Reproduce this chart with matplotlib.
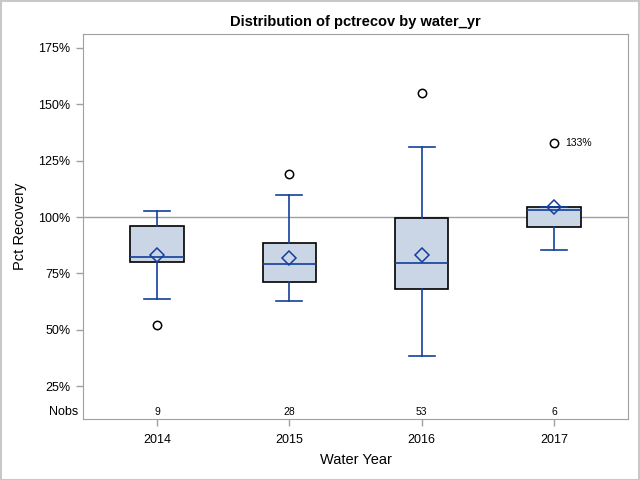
import matplotlib
matplotlib.use("Agg")
import matplotlib.pyplot as plt
from matplotlib.patches import Rectangle

plt.rcParams['font.family'] = ['Liberation Sans', 'DejaVu Sans']

years = ["2014", "2015", "2016", "2017"]
whislo = [63.6, 62.7, 38.5, 85.2]
q1 = [79.9, 71.1, 68.0, 95.5]
med = [82.5, 79.0, 79.6, 103.2]
q3 = [96.2, 88.7, 99.4, 104.6]
whishi = [102.6, 109.9, 131.0, 104.6]
means = [83.0, 81.7, 83.1, 104.4]
outliers = [[52.2], [119.2], [154.8], [132.9]]
nobs = [9, 28, 53, 6]
yticks = [25, 50, 75, 100, 125, 150, 175]
labeled_outlier = (3, 132.9, "133%")

fill = '#CAD5E5'
blue = '#13409c'
grey = '#a0a0a0'

fig = plt.figure(figsize=(6.4, 4.8), dpi=100)
ax = fig.add_axes([83/640, 1 - 419/480, (628-83)/640, (419-34)/480])

stats = []
for i in range(len(years)):
    stats.append(dict(med=med[i], q1=q1[i], q3=q3[i], whislo=whislo[i],
                      whishi=whishi[i], mean=means[i], fliers=outliers[i]))

ax.axhline(100, color=grey, lw=1, zorder=1)

ax.bxp(stats, positions=range(len(years)), widths=0.405, showmeans=True,
       patch_artist=True, manage_ticks=False,
       boxprops=dict(facecolor=fill, edgecolor='black', lw=1.2),
       medianprops=dict(color=blue, lw=1.2),
       whiskerprops=dict(color=blue, lw=1.2),
       capprops=dict(color=blue, lw=1.2),
       capwidths=0.196,
       meanprops=dict(marker='D', markerfacecolor='none', markeredgecolor=blue,
                      markersize=7, markeredgewidth=1.1),
       flierprops=dict(marker='o', markerfacecolor='none', markeredgecolor='black',
                       markersize=6, markeredgewidth=1.1),
       zorder=3)

i, v, s = labeled_outlier
ax.annotate(s, (i, v), xytext=(8, 0), textcoords='offset points',
            ha='left', va='center', fontsize=7.5)

ax.set_xlim(-0.56, 3.56)
ax.set_ylim(10.6, 181.0)
ax.set_yticks(yticks)
ax.set_yticklabels([f"{t}%" for t in yticks])
ax.set_xticks(range(len(years)))
ax.set_xticklabels(years)
ax.tick_params(axis='both', colors=grey, labelcolor='black', labelsize=9, length=5, width=1)
ax.tick_params(axis='x', pad=6)
ax.tick_params(axis='y', pad=4)
for sp in ax.spines.values():
    sp.set_color(grey)

for j, n in enumerate(nobs):
    ax.text(j, 13.7, str(n), ha='center', va='center', fontsize=7.5)
ax.text(-0.008, 13.7, "Nobs", transform=ax.get_yaxis_transform(), ha='right',
        va='center', fontsize=9)

ax.set_ylabel("Pct Recovery", fontsize=10.5, labelpad=8)
ax.set_xlabel("Water Year", fontsize=10.5, labelpad=5)
ax.set_title("Distribution of pctrecov by water_yr", fontsize=10.5,
             fontweight='bold', pad=6)

fig.patches.append(Rectangle((0.5/640, 0.5/480), 1 - 1.5/640, 1 - 1.5/480,
                             transform=fig.transFigure, fill=False,
                             edgecolor='#c8c8c8', lw=1.5))

fig.savefig("out.png", dpi=100)
